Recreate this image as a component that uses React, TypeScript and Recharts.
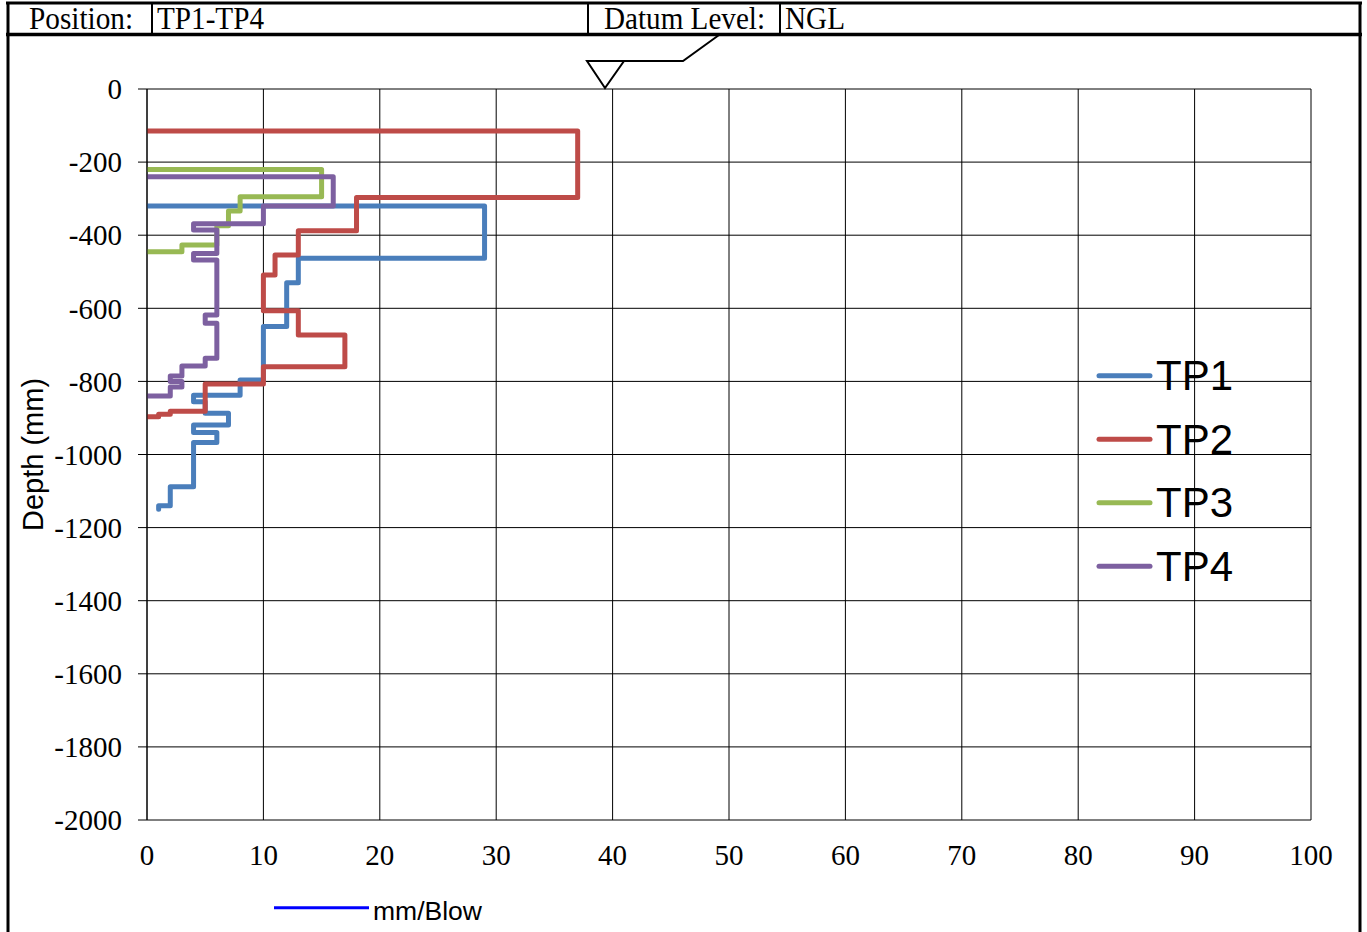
import React from 'react';
import { LineChart, Line, XAxis, YAxis, CartesianGrid, Legend } from 'recharts';

// ---- axis ticks ----
const blowTicks = [0, 10, 20, 30, 40, 50, 60, 70, 80, 90, 100];
const depthTicks = [0, -200, -400, -600, -800, -1000, -1200, -1400, -1600, -1800, -2000];

// ---- series (mm/blow, depth in mm) ----
const seriesNames = ['TP1', 'TP2', 'TP3', 'TP4'];
const seriesColors = ['#4a7ebb', '#be4b48', '#98b954', '#7d60a0'];

const tp1Blows = [0, 29, 29, 13, 13, 12, 12, 10, 10, 8, 8, 4, 4, 5, 5, 7, 7, 4, 4, 6, 6, 4, 4, 2, 2, 1, 1];
const tp1Depth = [-320, -320, -463, -463, -530, -530, -650, -650, -796, -796, -838, -838, -856, -856, -887, -887, -919, -919, -940, -940, -967, -967, -1088, -1088, -1140, -1140, -1150];

const tp2Blows = [0, 37, 37, 18, 18, 13, 13, 11, 11, 10, 10, 13, 13, 17, 17, 10, 10, 5, 5, 2, 2, 1, 1, 0];
const tp2Depth = [-115, -115, -297, -297, -388, -388, -454, -454, -509, -509, -607, -607, -673, -673, -760, -760, -807, -807, -882, -882, -890, -890, -897, -897];

const tp3Blows = [0, 15, 15, 8, 8, 7, 7, 6, 6, 3, 3, 0];
const tp3Depth = [-220, -220, -295, -295, -334, -334, -374, -374, -427, -427, -445, -445];

const tp4Blows = [0, 16, 16, 10, 10, 4, 4, 6, 6, 4, 4, 6, 6, 5, 5, 6, 6, 5, 5, 3, 3, 2, 2, 3, 3, 2, 2, 0];
const tp4Depth = [-240, -240, -320, -320, -369, -369, -386, -386, -450, -450, -468, -468, -618, -618, -641, -641, -737, -737, -758, -758, -785, -785, -800, -800, -815, -815, -840, -840];

const extraLegendLabel = 'mm/Blow';
const headerLabels = ['Position:', 'TP1-TP4', 'Datum Level:', 'NGL'];

const toPoints = (xs: number[], ds: number[]) => xs.map((x, i) => ({ x, d: ds[i] }));
const seriesData = [
  toPoints(tp1Blows, tp1Depth),
  toPoints(tp2Blows, tp2Depth),
  toPoints(tp3Blows, tp3Depth),
  toPoints(tp4Blows, tp4Depth),
];

const SERIF = '"Liberation Serif", "Times New Roman", serif';
const SANS = '"Liberation Sans", Arial, sans-serif';

const YLabel = (props: any) => {
  const vb = props.viewBox || { x: 87, y: 89, width: 60, height: 731 };
  const cx = vb.x - 44;
  const cy = vb.y + vb.height / 2;
  return (
    <text
      transform={`translate(${cx},${cy}) rotate(-90)`}
      textAnchor="middle"
      fontFamily={SANS}
      fontSize={29}
      fill="#000"
    >
      Depth (mm)
    </text>
  );
};

const LegendContent = (props: any) => {
  const payload = (props.payload || []).filter((p: any) => seriesNames.includes(p.value));
  const items = payload.length
    ? payload.map((p: any) => ({ name: p.value, color: p.color }))
    : seriesNames.map((n, i) => ({ name: n, color: seriesColors[i] }));
  return (
    <svg width={1367} height={932} style={{ position: 'absolute', left: 0, top: 0, pointerEvents: 'none' }}>
      {items.map((it: any, i: number) => {
        const y = 375.7 + i * 63.5;
        return (
          <g key={it.name}>
            <line x1={1099} y1={y} x2={1150} y2={y} stroke={it.color} strokeWidth={5} strokeLinecap="round" />
            <text x={1156} y={y + 14.5} fontFamily={SANS} fontSize={42} fill="#000">
              {it.name}
            </text>
          </g>
        );
      })}
      <line x1={274} y1={907.7} x2={369} y2={907.7} stroke="#0000ff" strokeWidth={3} />
      <text x={373} y={919.5} fontFamily={SANS} fontSize={26.5} fill="#000">
        {extraLegendLabel}
      </text>
    </svg>
  );
};

const HeaderText = ({ x, w, children }: any) => (
  <text
    x={x}
    y={28.5}
    fontFamily={SERIF}
    fontSize={32}
    fill="#000"
    textLength={w}
    lengthAdjust="spacingAndGlyphs"
  >
    {children}
  </text>
);

const HeaderFrame = () => (
  <svg
    width={1367}
    height={932}
    style={{ position: 'absolute', left: 0, top: 0, pointerEvents: 'none' }}
  >
    <line x1={6} y1={3} x2={1362} y2={3} stroke="#000" strokeWidth={3} />
    <line x1={6} y1={34.6} x2={1362} y2={34.6} stroke="#000" strokeWidth={3.5} />
    <line x1={8} y1={2} x2={8} y2={932} stroke="#000" strokeWidth={3} />
    <line x1={1360} y1={2} x2={1360} y2={932} stroke="#000" strokeWidth={3} />
    <line x1={152} y1={3} x2={152} y2={34} stroke="#000" strokeWidth={2} />
    <line x1={588} y1={3} x2={588} y2={34} stroke="#000" strokeWidth={2} />
    <line x1={780} y1={3} x2={780} y2={34} stroke="#000" strokeWidth={2} />
    <HeaderText x={29} w={104}>{headerLabels[0]}</HeaderText>
    <HeaderText x={157} w={107}>{headerLabels[1]}</HeaderText>
    <HeaderText x={604} w={161}>{headerLabels[2]}</HeaderText>
    <HeaderText x={785} w={60}>{headerLabels[3]}</HeaderText>
    {/* datum level symbol */}
    <polygon points="587,61 624,61 605,88" fill="none" stroke="#000" strokeWidth={2} strokeLinejoin="miter" />
    <polyline points="624,61 683,61 719,35" fill="none" stroke="#000" strokeWidth={2} />
  </svg>
);

export default function App() {
  return (
    <div
      style={{
        position: 'absolute',
        left: 0,
        top: 0,
        width: 1367,
        height: 932,
        background: '#fff',
        fontFamily: SERIF,
        overflow: 'hidden',
      }}
    >
      <LineChart width={1367} height={932} margin={{ top: 89, right: 56, bottom: 82, left: 87 }}>
        <CartesianGrid stroke="#000" strokeWidth={1} />
        <XAxis
          xAxisId={0}
          dataKey="x"
          type="number"
          domain={[0, 100]}
          ticks={blowTicks}
          interval={0}
          allowDataOverflow
          axisLine={false}
          tickLine={false}
          tickSize={6}
          tickMargin={18}
          height={30}
          tick={{ fill: '#000', fontSize: 29, fontFamily: SERIF }}
        />
        <XAxis
          xAxisId="top"
          orientation="top"
          type="number"
          domain={[0, 100]}
          ticks={blowTicks}
          interval={0}
          allowDataOverflow
          height={0}
          tickSize={9}
          tick={false}
          axisLine={{ stroke: '#000' }}
          tickLine={{ stroke: '#000' }}
        />
        <YAxis
          dataKey="d"
          type="number"
          domain={[-2000, 0]}
          ticks={depthTicks}
          interval={0}
          allowDataOverflow
          width={60}
          tickSize={9}
          tickMargin={16}
          axisLine={{ stroke: '#000' }}
          tickLine={{ stroke: '#000' }}
          tick={{ fill: '#000', fontSize: 29, fontFamily: SERIF }}
          label={<YLabel />}
        />
        {seriesData.map((data, i) => (
          <Line
            key={seriesNames[i]}
            name={seriesNames[i]}
            data={data}
            dataKey="d"
            xAxisId={0}
            type="linear"
            stroke={seriesColors[i]}
            strokeWidth={5}
            strokeLinecap="round"
            strokeLinejoin="round"
            dot={false}
            activeDot={false}
            isAnimationActive={false}
          />
        ))}
        <Legend
          layout="vertical"
          align="center"
          verticalAlign="middle"
          wrapperStyle={{ left: 0, top: 0, width: 1367, height: 932, pointerEvents: 'none' }}
          content={<LegendContent />}
        />
      </LineChart>
      <HeaderFrame />
    </div>
  );
}
